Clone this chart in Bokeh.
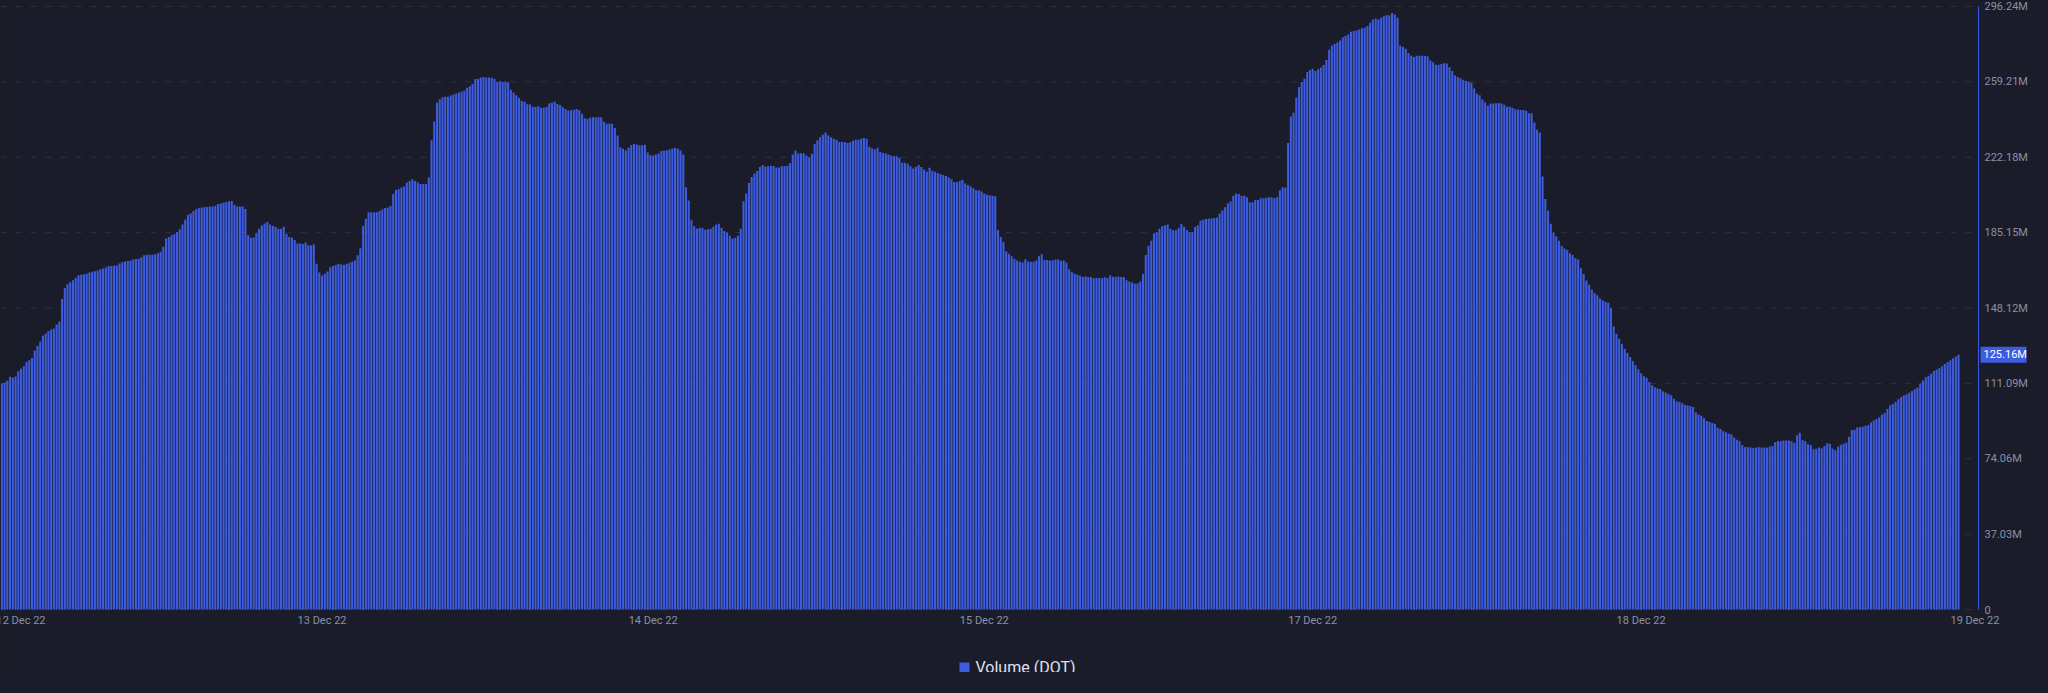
from bokeh.plotting import figure
from bokeh.models import ColumnDataSource, Range1d
from bokeh.core.properties import value
from bokeh.embed import file_html
from bokeh.resources import INLINE

# ---- data (volume, millions of DOT), one list per day segment ----
vol_day1 = [111.0, 111.5, 112.5, 114.3, 113.8, 114.5, 117.0, 118.3, 119.5, 121.6,
            122.5, 123.5, 127.2, 129.5, 131.5, 134.5, 135.5, 136.8, 137.6, 138.1,
            140.0, 141.5, 152.6, 158.0, 159.9, 160.8, 161.8, 163.0, 164.2, 164.5,
            164.7, 165.0, 165.5, 165.9, 166.2, 166.6, 167.2, 167.5, 168.0, 168.8,
            168.8, 169.0, 169.0, 170.0, 170.6, 171.0, 171.2, 171.5, 171.9, 172.2,
            172.3, 173.0, 174.0, 174.3, 174.3, 174.3, 174.5, 175.0, 175.8, 178.2,
            182.3, 183.0, 183.8, 184.5, 185.5, 186.8, 189.1, 191.5, 193.9, 194.5,
            195.8, 196.7, 197.3, 197.5, 197.6, 197.8, 198.0, 198.0, 198.4, 199.2,
            199.5, 199.8, 200.2, 200.6, 200.7, 198.9, 198.0, 198.0, 198.0, 196.8,
            183.9, 182.6, 182.8, 184.8, 187.1, 188.7, 189.6, 190.4, 189.2, 188.5,
            188.0, 187.0, 187.0, 188.0, 184.5, 183.0, 182.8, 181.5, 179.8, 179.8,
            179.6, 180.3, 179.0, 178.9, 179.5, 169.8, 165.5, 164.1, 164.9, 166.0]
vol_day2 = [168.2, 168.7, 169.3, 169.8, 169.5, 169.3, 169.8, 170.3, 170.9, 171.5,
            174.0, 177.5, 188.4, 192.0, 195.1, 195.1, 195.0, 195.1, 195.8, 196.5,
            197.2, 197.5, 198.3, 204.1, 206.2, 206.5, 207.3, 207.8, 209.8, 210.5,
            211.4, 210.5, 209.8, 209.0, 209.0, 209.0, 212.2, 230.5, 239.7, 249.0,
            250.7, 251.6, 251.9, 251.9, 252.5, 253.0, 253.5, 254.0, 254.3, 255.0,
            256.3, 257.0, 258.2, 260.6, 260.6, 261.3, 261.6, 261.4, 261.3, 261.2,
            260.8, 259.2, 259.5, 259.2, 259.4, 259.0, 255.4, 254.0, 252.7, 251.3,
            249.8, 249.4, 248.2, 248.1, 247.0, 246.9, 247.2, 246.5, 246.5, 247.0,
            248.6, 249.0, 249.4, 248.3, 247.9, 246.7, 245.9, 245.1, 245.3, 245.5,
            245.9, 245.3, 243.5, 241.3, 241.0, 241.6, 241.8, 241.8, 241.8, 241.8,
            239.6, 238.6, 238.8, 238.6, 236.5, 232.9, 227.1, 226.3, 225.5, 226.8,
            228.2, 228.7, 228.5, 228.1, 228.1, 228.3, 224.5, 223.2, 223.0, 223.5]
vol_day3 = [224.0, 225.3, 225.5, 225.6, 226.0, 226.5, 226.8, 226.5, 225.5, 223.5,
            207.4, 200.9, 191.2, 188.3, 187.1, 187.6, 187.4, 186.6, 186.8, 187.1,
            188.0, 189.2, 189.5, 187.5, 186.0, 185.2, 183.6, 182.1, 182.6, 183.6,
            187.1, 200.6, 204.4, 209.5, 212.5, 214.2, 215.4, 217.4, 218.4, 217.5,
            217.8, 218.0, 217.9, 217.1, 217.1, 217.8, 217.9, 218.0, 219.2, 223.5,
            225.5, 224.0, 224.2, 224.2, 223.0, 222.2, 223.9, 228.7, 230.5, 232.0,
            233.2, 234.4, 232.9, 232.0, 231.3, 230.8, 229.7, 229.7, 229.7, 229.2,
            229.5, 230.3, 230.8, 230.8, 231.3, 231.6, 231.3, 227.3, 226.5, 226.0,
            226.8, 224.8, 224.3, 224.0, 223.5, 223.0, 222.7, 222.7, 221.9, 219.5,
            219.5, 219.0, 217.8, 216.6, 217.4, 218.4, 217.4, 216.2, 215.1, 217.0,
            215.5, 215.0, 214.5, 214.0, 213.5, 213.0, 212.2, 211.4, 210.0, 209.9,
            210.5, 211.1, 209.3, 208.5, 207.8, 207.0, 206.0, 206.0, 205.4, 204.4]
vol_day4 = [203.8, 203.5, 203.3, 203.0, 186.5, 183.0, 180.5, 176.0, 174.8, 173.6,
            172.3, 171.5, 170.9, 170.5, 172.1, 171.0, 170.9, 170.9, 171.5, 173.6,
            174.5, 171.7, 171.7, 171.3, 171.6, 171.9, 172.0, 171.3, 171.4, 170.5,
            167.0, 165.7, 165.0, 164.4, 164.0, 163.4, 163.6, 163.4, 163.3, 162.7,
            162.8, 162.9, 162.7, 163.2, 162.9, 164.1, 163.5, 163.4, 163.6, 163.4,
            163.3, 161.7, 161.2, 160.6, 160.0, 160.2, 161.2, 164.8, 174.2, 178.6,
            181.1, 184.7, 185.3, 187.1, 188.3, 188.8, 189.2, 187.0, 186.3, 186.3,
            187.4, 189.4, 188.0, 186.5, 185.5, 185.5, 187.9, 188.8, 191.0, 191.5,
            191.8, 192.0, 192.2, 192.3, 192.6, 194.5, 196.0, 197.6, 199.6, 200.6,
            203.3, 204.4, 204.1, 203.3, 203.3, 202.5, 200.1, 200.1, 201.2, 201.2,
            202.0, 202.0, 202.3, 202.5, 202.5, 202.0, 202.5, 206.0, 207.3, 207.3,
            229.2, 242.2, 244.1, 251.4, 256.7, 259.2, 260.8, 264.0, 265.1, 265.6]
vol_day5 = [264.5, 265.4, 266.3, 267.5, 270.0, 275.0, 276.9, 277.8, 278.6, 279.5,
            281.0, 281.8, 282.5, 283.8, 284.2, 284.4, 284.9, 285.5, 285.8, 286.6,
            288.3, 289.8, 290.4, 289.9, 290.7, 291.5, 292.0, 292.0, 293.0, 292.3,
            290.7, 276.9, 276.5, 275.5, 273.4, 272.0, 271.4, 272.0, 272.0, 272.0,
            271.9, 271.8, 269.7, 268.9, 267.6, 267.6, 268.0, 268.4, 268.2, 266.4,
            264.5, 262.4, 261.6, 261.0, 260.3, 259.6, 259.4, 258.8, 255.9, 253.5,
            252.7, 250.6, 249.1, 247.5, 248.6, 248.6, 248.7, 248.8, 248.6, 248.0,
            247.0, 247.0, 246.5, 245.7, 245.6, 245.4, 245.4, 245.0, 243.8, 243.8,
            239.3, 235.7, 234.4, 212.7, 201.7, 195.9, 189.5, 185.2, 183.4, 181.1,
            178.7, 177.4, 176.6, 175.0, 174.2, 172.5, 172.0, 167.7, 164.8, 161.6,
            159.6, 157.2, 155.5, 154.4, 152.8, 151.8, 151.2, 150.7, 148.0, 139.0,
            135.5, 133.0, 130.5, 128.0, 126.0, 124.0, 122.0, 120.0, 118.0, 116.0]
vol_day6 = [114.6, 113.8, 111.8, 110.2, 109.2, 108.6, 108.3, 107.2, 106.6, 105.9,
            105.2, 103.5, 102.3, 101.9, 101.3, 100.5, 100.2, 99.9, 99.5, 96.8,
            95.7, 95.2, 94.0, 92.6, 92.2, 91.6, 91.2, 89.3, 88.7, 87.6,
            87.1, 86.4, 86.0, 84.5, 83.4, 82.8, 80.8, 79.8, 79.8, 79.6,
            79.3, 79.5, 79.8, 79.6, 79.5, 79.5, 80.0, 80.3, 82.2, 82.7,
            82.7, 83.0, 83.0, 83.0, 82.7, 81.9, 85.6, 86.8, 83.2, 82.7,
            81.2, 80.8, 78.7, 79.0, 79.6, 79.2, 80.3, 81.6, 81.4, 79.0,
            78.3, 80.0, 80.9, 81.4, 82.0, 84.8, 88.2, 88.3, 89.5, 89.6,
            89.8, 90.3, 90.5, 91.9, 92.9, 93.6, 94.4, 95.7, 96.5, 98.5,
            100.3, 101.0, 102.0, 103.3, 104.3, 105.2, 105.7, 106.5, 107.3, 108.2,
            109.0, 111.0, 112.5, 114.0, 114.8, 115.9, 117.2, 117.9, 118.6, 119.5,
            120.6, 121.6, 122.4, 123.4, 124.3, 125.16]

x_tick_labels = ["12 Dec 22", "13 Dec 22", "14 Dec 22", "15 Dec 22",
                 "17 Dec 22", "18 Dec 22", "19 Dec 22"]
y_tick_values = [0, 37.03, 74.06, 111.09, 148.12, 185.15, 222.18, 259.21, 296.24]
y_tick_labels = ["0", "37.03M", "74.06M", "111.09M", "148.12M", "185.15M",
                 "222.18M", "259.21M", "296.24M"]
series_name = "Volume (DOT)"
last_value_label = "125.16M"

# ---- layout constants (pixels) ----
BG = "#1a1d29"
BLUE = "#3d5ce0"
GRAY = "#8a8fa6"
GRID = "#2d3142"
FIG_W, FIG_H = 2028, 672          # the whole figure is one frame: no side panels
PX_X = 2.7366                     # screen px per bar slot
TOP_PAD = 6                       # frame top -> top tick
ZERO_PX = 609                     # frame top -> zero line
AXIS_PX = 1978                    # frame left -> value-axis line
DATE_LABEL_DY = 11                # zero line -> date labels
LEGEND_DY = 58                    # zero line -> legend
LEGEND_SWATCH_PX = 964            # frame left -> legend swatch centre
LEGEND_TEXT_PX = 975              # frame left -> legend text start

volume = vol_day1 + vol_day2 + vol_day3 + vol_day4 + vol_day5 + vol_day6
n = len(volume)
y_top = max(y_tick_values)
px_y = (ZERO_PX - TOP_PAD) / y_top
x_start = -0.5
x_stop = x_start + FIG_W / PX_X
x_axis = x_start + AXIS_PX / PX_X
x_tick_pos = [7, 117, 238, 359, 479, 599, 721]

p = figure(frame_width=FIG_W, frame_height=FIG_H, output_backend="svg",
           toolbar_location=None, x_axis_location=None, y_axis_location=None,
           x_range=Range1d(x_start, x_stop),
           y_range=Range1d(-(FIG_H - ZERO_PX) / px_y, ZERO_PX / px_y),
           min_border_left=0, min_border_top=0, min_border_right=0,
           min_border_bottom=0)
p.background_fill_color = BG
p.border_fill_color = BG
p.outline_line_color = None
p.xgrid.grid_line_color = None
p.ygrid.grid_line_color = None

# horizontal dashed grid, stopping at the value axis
p.segment(x0=[x_start] * len(y_tick_values), x1=[x_axis] * len(y_tick_values),
          y0=y_tick_values, y1=y_tick_values, line_color=GRID, line_width=1,
          line_dash="6 9")

src = ColumnDataSource(dict(x=list(range(n)), v=volume))
p.vbar(x="x", top="v", bottom=0, width=0.75, source=src, fill_color=BLUE,
       line_color=None)

# value axis line (right side)
p.segment(x0=[x_axis], x1=[x_axis], y0=[0], y1=[y_top], line_color=BLUE,
          line_width=1)

# value axis tick labels
ysrc = ColumnDataSource(dict(x=[x_axis] * len(y_tick_values), y=y_tick_values,
                             t=y_tick_labels))
p.text(x="x", y="y", text="t", source=ysrc, x_offset=6,
       text_font=value("Roboto"), text_font_size=value("11px"),
       text_color=GRAY, text_align="left", text_baseline="middle")

# current-value tag
last = volume[-1]
p.rect(x=[x_axis + 25 / PX_X], y=[last], width=[46], height=[16],
       width_units="screen", height_units="screen", fill_color=BLUE,
       line_color=None)
p.text(x=[x_axis], y=[last], text=[last_value_label], x_offset=5,
       text_font=value("Roboto"), text_font_size=value("11px"),
       text_color="white", text_align="left", text_baseline="middle")

# date labels under the bars
xsrc = ColumnDataSource(dict(x=x_tick_pos, y=[-DATE_LABEL_DY / px_y] * len(x_tick_pos),
                             t=x_tick_labels))
p.text(x="x", y="y", text="t", source=xsrc, text_font=value("Roboto"),
       text_font_size=value("11px"), text_color=GRAY, text_align="center",
       text_baseline="middle")

# legend (swatch + label), centred under the chart
leg_y = -LEGEND_DY / px_y
p.rect(x=[x_start + LEGEND_SWATCH_PX / PX_X], y=[leg_y], width=[10], height=[10],
       width_units="screen", height_units="screen", fill_color=BLUE,
       line_color=None)
p.text(x=[x_start + LEGEND_TEXT_PX / PX_X], y=[leg_y], text=[series_name],
       text_font=value("Roboto"), text_font_size=value("16px"),
       text_color="#dfe2ee", text_align="left", text_baseline="middle")

html = file_html(p, INLINE)
html = html.replace("<head>", "<head><style>body{background:#1a1d29;}</style>", 1)
open("out.html", "w").write(html)
